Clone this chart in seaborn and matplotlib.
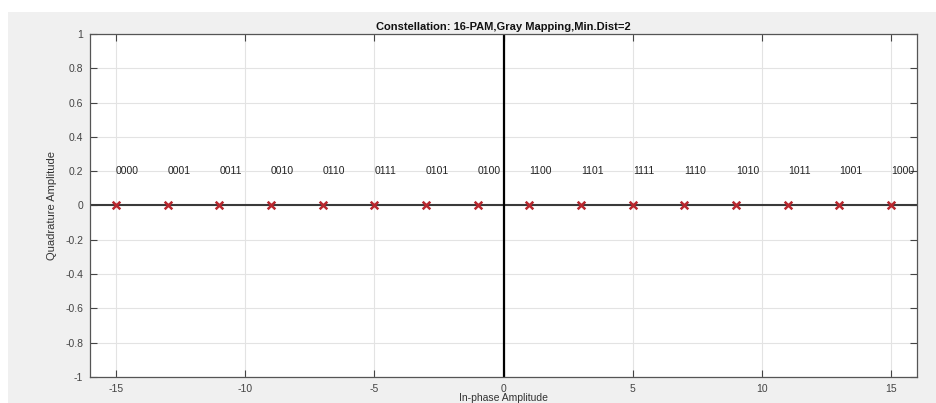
import matplotlib
matplotlib.use("Agg")
import matplotlib.pyplot as plt
import seaborn as sns
import pandas as pd
from matplotlib.patches import Rectangle

# Data
inphase = [-15, -13, -11, -9, -7, -5, -3, -1, 1, 3, 5, 7, 9, 11, 13, 15]
quadrature = [0] * 16
symbols = ["0000", "0001", "0011", "0010", "0110", "0111", "0101", "0100",
           "1100", "1101", "1111", "1110", "1010", "1011", "1001", "1000"]
label_y = 0.2
x_ticks = [-15, -10, -5, 0, 5, 10, 15]
y_ticks = [-1, -0.8, -0.6, -0.4, -0.2, 0, 0.2, 0.4, 0.6, 0.8, 1]
y_ticklabels = ["-1", "-0.8", "-0.6", "-0.4", "-0.2", "0", "0.2", "0.4", "0.6", "0.8", "1"]

df = pd.DataFrame({"I": inphase, "Q": quadrature, "sym": symbols})

sns.set_theme(style="white")
plt.rcParams["font.family"] = ["Liberation Sans", "DejaVu Sans"]

fig = plt.figure(figsize=(9.36, 4.03), dpi=100)
fig.patch.set_facecolor("#f0f0f0")
# white strips at top and left like the screenshot
fig.patches.append(Rectangle((0, 1 - 12 / 403), 1, 12 / 403, transform=fig.transFigure,
                             facecolor="white", edgecolor="none", zorder=-1))
fig.patches.append(Rectangle((0, 0), 8 / 936, 1, transform=fig.transFigure,
                             facecolor="white", edgecolor="none", zorder=-1))

ax = fig.add_axes([90 / 936, 1 - 377 / 403, (917 - 90) / 936, (377 - 34) / 403])
ax.set_facecolor("white")

ax.set_xlim(-16, 16)
ax.set_ylim(-1, 1)
ax.set_xticks(x_ticks)
ax.set_xticklabels([str(t) for t in x_ticks])
ax.set_yticks(y_ticks)
ax.set_yticklabels(y_ticklabels)
ax.grid(True, color="#e3e3e3", linewidth=0.8)
ax.set_axisbelow(True)

ax.axhline(0, color="#3a3a3a", linewidth=1.5, zorder=2)
ax.axvline(0, color="black", linewidth=1.6, zorder=2)

sns.scatterplot(data=df, x="I", y="Q", marker="x", color="#b8282f", s=30,
                linewidth=1.8, ax=ax, zorder=3, legend=False)

for xi, s in zip(df["I"], df["sym"]):
    ax.text(xi, label_y, s, ha="left", va="center", fontsize=7.5, color="#222222")

for sp in ax.spines.values():
    sp.set_color("#555555")
    sp.set_linewidth(0.9)

ax.tick_params(axis="both", direction="in", length=5, width=0.8, color="#444444",
               labelsize=7.5, labelcolor="#444444", top=True, right=True,
               bottom=True, left=True, pad=5)

ax.set_title("Constellation: 16-PAM,Gray Mapping,Min.Dist=2", fontsize=8,
             fontweight="bold", pad=3, color="#111111")
ax.set_xlabel("In-phase Amplitude", fontsize=7.5, color="#333333", labelpad=-1)
ax.set_ylabel("Quadrature Amplitude", fontsize=8, color="#333333", labelpad=6)

fig.savefig("out.png", dpi=100, facecolor=fig.get_facecolor())
